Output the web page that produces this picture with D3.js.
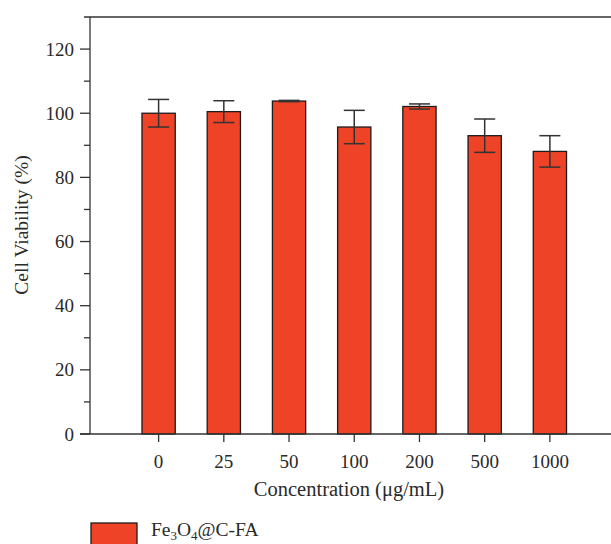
<!DOCTYPE html>
<html lang="en">
<head>
  <meta charset="UTF-8">
  <title>Cell Viability</title>
  <script src="https://d3js.org/d3.v7.min.js"></script>
  <style>
    body { margin: 0; background: white; }
    svg text { font-family: "Liberation Serif", "Times New Roman", serif; fill: #2a2a2a; }
  </style>
</head>
<body>
  <svg class="chart" width="611" height="544"></svg>
  <script>
    // data
    const concentrations = ['0', '25', '50', '100', '200', '500', '1000'];
    const viability = [100.0, 100.5, 103.8, 95.7, 102.1, 93.0, 88.1];
    const errors = [4.3, 3.4, 0.2, 5.2, 0.8, 5.2, 4.9];
    const yTicks = [0, 20, 40, 60, 80, 100, 120];
    const seriesName = ['Fe', '3', 'O', '4', '@C-FA'];

    const svg = d3.select('svg.chart');
    const axisColor = '#333';
    const barColor = '#ee4326';

    const y = d3.scaleLinear().domain([0, 130]).range([434, 17]);
    const x = d3.scaleBand().domain(concentrations).range([126, 582.5]).paddingInner(0.49).paddingOuter(0.245);

    // frame lines
    svg.append('line').attr('x1', 84).attr('x2', 611).attr('y1', 17).attr('y2', 17)
      .attr('stroke', axisColor).attr('stroke-width', 1.3);

    // bars
    svg.append('g').selectAll('rect')
      .data(viability)
      .join('rect')
      .attr('x', (d, i) => x(concentrations[i]))
      .attr('y', d => y(d))
      .attr('width', x.bandwidth())
      .attr('height', d => y(0) - y(d))
      .attr('fill', barColor)
      .attr('stroke', '#1c1c1c')
      .attr('stroke-width', 1.3);

    // error bars
    const eb = svg.append('g').attr('stroke', '#333').attr('stroke-width', 1.5);
    viability.forEach((v, i) => {
      const cx = x(concentrations[i]) + x.bandwidth() / 2;
      eb.append('line').attr('x1', cx).attr('x2', cx).attr('y1', y(v + errors[i])).attr('y2', y(v - errors[i]));
      [v + errors[i], v - errors[i]].forEach(e => {
        eb.append('line').attr('x1', cx - 10.5).attr('x2', cx + 10.5).attr('y1', y(e)).attr('y2', y(e));
      });
    });

    // y axis
    const yAxis = svg.append('g').attr('transform', 'translate(90,0)');
    yAxis.append('line').attr('x1', 0).attr('x2', 0).attr('y1', 17).attr('y2', 434)
      .attr('stroke', axisColor).attr('stroke-width', 1.3);
    d3.range(0, 130, 10).forEach(t => {
      yAxis.append('line').attr('x1', yTicks.includes(t) ? -10 : -6).attr('x2', 0)
        .attr('y1', y(t)).attr('y2', y(t)).attr('stroke', axisColor).attr('stroke-width', 1.3);
    });
    yAxis.selectAll('text.tick').data(yTicks).join('text')
      .attr('class', 'tick')
      .attr('x', -16).attr('y', d => y(d)).attr('dy', '0.35em')
      .attr('text-anchor', 'end').attr('font-size', 19)
      .text(d => d);

    // x axis
    const xAxis = svg.append('g');
    xAxis.append('line').attr('x1', 80).attr('x2', 611).attr('y1', 434).attr('y2', 434)
      .attr('stroke', axisColor).attr('stroke-width', 1.3);
    concentrations.forEach(c => {
      const cx = x(c) + x.bandwidth() / 2;
      xAxis.append('line').attr('x1', cx).attr('x2', cx).attr('y1', 434).attr('y2', 442)
        .attr('stroke', axisColor).attr('stroke-width', 1.3);
      xAxis.append('text').attr('x', cx).attr('y', 468).attr('text-anchor', 'middle')
        .attr('font-size', 19).text(c);
    });

    // axis titles
    svg.append('text').attr('x', 349).attr('y', 496).attr('text-anchor', 'middle')
      .attr('font-size', 20.5).text('Concentration (\u03bcg/mL)');
    svg.append('text').attr('transform', 'translate(28,225) rotate(-90)')
      .attr('text-anchor', 'middle').attr('font-size', 19.5).text('Cell Viability (%)');

    // legend
    svg.append('rect').attr('x', 91).attr('y', 523).attr('width', 46).attr('height', 30)
      .attr('fill', barColor).attr('stroke', '#1c1c1c').attr('stroke-width', 1.3);
    const lt = svg.append('text').attr('x', 151).attr('y', 536).attr('font-size', 19.5);
    seriesName.forEach((s, i) => {
      const sub = i % 2 === 1 && i < 4;
      lt.append('tspan').attr('font-size', sub ? 13 : 19.5)
        .attr('dy', sub ? 4 : (i > 0 ? -4 : 0)).text(s);
    });
  </script>
</body>
</html>
